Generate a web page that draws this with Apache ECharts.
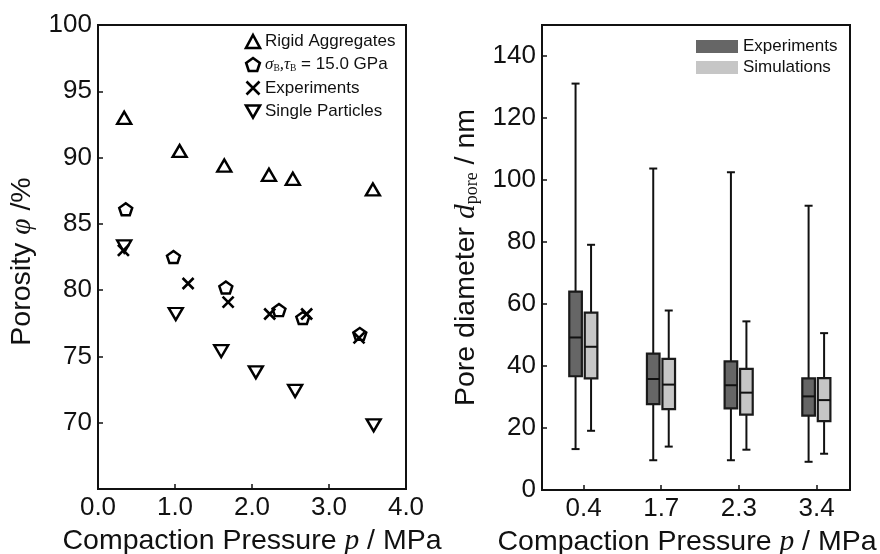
<!DOCTYPE html>
<html>
<head>
<meta charset="utf-8">
<script src="https://cdn.jsdelivr.net/npm/echarts@6/dist/echarts.min.js"></script>
<style>html,body{margin:0;padding:0;background:#fff;}#c{width:880px;height:554px;}</style>
</head>
<body>
<div id="c"></div>
<script>
// ---- Left panel: porosity vs compaction pressure ----
const rigidX  = [0.34, 1.06, 1.64, 2.22, 2.53, 3.57];
const rigidY  = [93.0, 90.5, 89.4, 88.7, 88.4, 87.6];
const bondX   = [0.36, 0.98, 1.66, 2.35, 2.66, 3.40];
const bondY   = [86.1, 82.5, 80.2, 78.5, 77.9, 76.7];
const expX    = [0.33, 1.17, 1.69, 2.23, 2.71, 3.39];
const expY    = [83.0, 80.5, 79.1, 78.2, 78.2, 76.4];
const singleX = [0.34, 1.01, 1.60, 2.05, 2.56, 3.58];
const singleY = [83.3, 78.2, 75.4, 73.8, 72.4, 69.8];

// ---- Right panel: pore diameter box plots ----
const boxCats  = ['0.4', '1.7', '2.3', '3.4'];
const boxPos   = [0, 1, 2, 3];
const expLow   = [13.2, 9.6, 9.6, 9.1];
const expQ1    = [36.7, 27.7, 26.3, 24.0];
const expMed   = [49.2, 35.8, 33.8, 30.2];
const expQ3    = [64.0, 44.0, 41.5, 36.0];
const expHigh  = [131.1, 103.7, 102.5, 91.7];
const simLow   = [19.1, 14.0, 13.0, 11.7];
const simQ1    = [36.0, 26.1, 24.3, 22.2];
const simMed   = [46.2, 34.0, 31.4, 29.0];
const simQ3    = [57.2, 42.3, 39.1, 36.1];
const simHigh  = [79.1, 57.9, 54.4, 50.6];

const SANS = 'Liberation Sans';
const SERIF = 'Liberation Serif';
const INK = '#111';

function zip(a, b) { return a.map((v, i) => [v, b[i]]); }
function boxData(low, q1, med, q3, high) {
  return boxPos.map((p, i) => [p, low[i], q1[i], med[i], q3[i], high[i]]);
}

const pentagon = 'path://M50,0 L100,36.3 L80.9,95.1 L19.1,95.1 L0,36.3 Z';
const downTri = 'path://M0,0 L100,0 L50,86.6 Z';
const cross = 'path://M0,0 L100,100 M100,0 L0,100';

function makeBox(offset) {
  return function (params, api) {
    const c = api.value(0);
    const P = v => api.coord([c, v]);
    const lo = P(api.value(1)), q1 = P(api.value(2)), md = P(api.value(3)),
          q3 = P(api.value(4)), hi = P(api.value(5));
    const x = lo[0] + offset;
    const hw = 6.3, cw = 4;
    const color = api.visual('color');
    const ls = { stroke: INK, lineWidth: 2 };
    return {
      type: 'group',
      children: [
        { type: 'line', shape: { x1: x, y1: hi[1], x2: x, y2: q3[1] }, style: ls },
        { type: 'line', shape: { x1: x, y1: lo[1], x2: x, y2: q1[1] }, style: ls },
        { type: 'line', shape: { x1: x - cw, y1: hi[1], x2: x + cw, y2: hi[1] }, style: ls },
        { type: 'line', shape: { x1: x - cw, y1: lo[1], x2: x + cw, y2: lo[1] }, style: ls },
        { type: 'rect', shape: { x: x - hw, y: q3[1], width: 2 * hw, height: q1[1] - q3[1] },
          style: { fill: color, stroke: '#1a1a1a', lineWidth: 2.2 } },
        { type: 'line', shape: { x1: x - hw, y1: md[1], x2: x + hw, y2: md[1] }, style: ls }
      ]
    };
  };
}

const labelStyle = { fontFamily: SANS, fontSize: 26, color: INK };
const nameRich = {
  t: { fontFamily: SANS, fontSize: 28.5, color: INK },
  i: { fontFamily: SERIF, fontStyle: 'italic', fontSize: 29.5, color: INK },
  s: { fontFamily: SERIF, fontSize: 18, color: INK, padding: [12, 0, 0, 0] }
};
const markerStyle = { color: '#fff', borderColor: '#000', borderWidth: 2.4, opacity: 1 };

const chart = echarts.init(document.getElementById('c'), null, { renderer: 'canvas' });
chart.setOption({
  animation: false,
  backgroundColor: '#fff',
  grid: [
    { left: 98, right: 474, top: 25, bottom: 65, show: true, borderColor: INK, borderWidth: 2,
      backgroundColor: 'transparent', containLabel: false, outerBoundsMode: 'none' },
    { left: 542, right: 30, top: 25, bottom: 64, show: true, borderColor: INK, borderWidth: 2,
      backgroundColor: 'transparent', containLabel: false, outerBoundsMode: 'none' }
  ],
  legend: [
    {
      data: ['Rigid Aggregates', 'Bonded', 'Experiments', 'Single Particles'],
      orient: 'vertical', left: 239, top: 28, itemWidth: 14, itemHeight: 13, itemGap: 6,
      selectedMode: false,
      itemStyle: { borderWidth: 2.6, borderColor: '#000' },
      textStyle: {
        fontFamily: SANS, fontSize: 17, color: INK,
        rich: {
          g: { fontFamily: SERIF, fontStyle: 'italic', fontSize: 17, color: INK },
          s: { fontFamily: SERIF, fontSize: 9.5, color: INK, padding: [7, 0, 0, 0] },
          t: { fontFamily: SANS, fontSize: 17, color: INK }
        }
      },
      formatter: function (n) {
        if (n === 'Bonded') return '{g|σ}{s|B}{g|,τ}{s|B}{t| = 15.0 GPa}';
        return n;
      }
    },
    {
      data: [
        { name: 'ExpBox', icon: 'rect', itemStyle: { color: '#666', borderWidth: 0 } },
        { name: 'SimBox', icon: 'rect', itemStyle: { color: '#c6c6c6', borderWidth: 0 } }
      ],
      orient: 'vertical', left: 691, top: 33, itemWidth: 42, itemHeight: 13, itemGap: 4,
      selectedMode: false,
      textStyle: { fontFamily: SANS, fontSize: 17, color: INK },
      formatter: function (n) { return n === 'ExpBox' ? 'Experiments' : 'Simulations'; }
    }
  ],
  xAxis: [
    {
      gridIndex: 0, type: 'value', min: 0, max: 4, interval: 1,
      axisLine: { onZero: false, lineStyle: { color: INK, width: 2 } },
      axisTick: { inside: true, length: 5, lineStyle: { color: INK, width: 1.5 } },
      splitLine: { show: false },
      axisLabel: { ...labelStyle, margin: 6, formatter: v => v.toFixed(1) },
      name: '{t|Compaction Pressure }{i|p}{t| / MPa}',
      nameLocation: 'middle', nameGap: 36,
      nameTextStyle: { rich: nameRich }
    },
    {
      gridIndex: 1, type: 'value', min: -0.535, max: 3.43,
      axisLine: { onZero: false, lineStyle: { color: INK, width: 2 } },
      axisTick: { inside: true, length: 5, customValues: boxPos, lineStyle: { color: INK, width: 1.5 } },
      splitLine: { show: false },
      axisLabel: { ...labelStyle, margin: 6, customValues: boxPos, formatter: v => boxCats[Math.round(v)] },
      name: '{t|Compaction Pressure }{i|p}{t| / MPa}',
      nameLocation: 'middle', nameGap: 36,
      nameTextStyle: { rich: nameRich, padding: [0, 18, 0, 0] }
    }
  ],
  yAxis: [
    {
      gridIndex: 0, type: 'value', min: 65, max: 100, interval: 5,
      axisLine: { show: true, onZero: false, lineStyle: { color: INK, width: 2 } },
      axisTick: { show: true, inside: true, length: 5, lineStyle: { color: INK, width: 1.5 } },
      splitLine: { show: false },
      axisLabel: { ...labelStyle, margin: 6, showMinLabel: false },
      name: '{t|Porosity }{i|φ}{t| /%}',
      nameLocation: 'middle', nameGap: 61, nameRotate: 90,
      nameTextStyle: { rich: nameRich, padding: [0, 9, 0, 0] }
    },
    {
      gridIndex: 1, type: 'value', min: 0, max: 150, interval: 20,
      axisLine: { show: true, onZero: false, lineStyle: { color: INK, width: 2 } },
      axisTick: { show: true, inside: true, length: 5, lineStyle: { color: INK, width: 1.5 } },
      splitLine: { show: false },
      axisLabel: { ...labelStyle, margin: 6, showMaxLabel: false },
      name: '{t|Pore diameter }{i|d}{s|pore}{t| / nm}',
      nameLocation: 'middle', nameGap: 61, nameRotate: 90,
      nameTextStyle: { rich: nameRich }
    }
  ],
  series: [
    { name: 'Rigid Aggregates', type: 'scatter', xAxisIndex: 0, yAxisIndex: 0,
      symbol: 'triangle', symbolSize: [14, 12], itemStyle: markerStyle, data: zip(rigidX, rigidY) },
    { name: 'Bonded', type: 'scatter', xAxisIndex: 0, yAxisIndex: 0,
      symbol: pentagon, symbolSize: [13, 12], itemStyle: markerStyle, data: zip(bondX, bondY) },
    { name: 'Single Particles', type: 'scatter', xAxisIndex: 0, yAxisIndex: 0,
      symbol: downTri, symbolSize: [14, 12], itemStyle: markerStyle, data: zip(singleX, singleY) },
    { name: 'Experiments', type: 'scatter', xAxisIndex: 0, yAxisIndex: 0,
      symbol: cross, symbolSize: [11, 11],
      itemStyle: { color: 'none', borderColor: '#000', borderWidth: 2.6, opacity: 1 },
      data: zip(expX, expY) },
    { name: 'ExpBox', type: 'custom', xAxisIndex: 1, yAxisIndex: 1,
      itemStyle: { color: '#666' }, renderItem: makeBox(-8),
      encode: { x: 0, y: [1, 2, 3, 4, 5] }, data: boxData(expLow, expQ1, expMed, expQ3, expHigh) },
    { name: 'SimBox', type: 'custom', xAxisIndex: 1, yAxisIndex: 1,
      itemStyle: { color: '#c6c6c6' }, renderItem: makeBox(7.5),
      encode: { x: 0, y: [1, 2, 3, 4, 5] }, data: boxData(simLow, simQ1, simMed, simQ3, simHigh) }
  ]
});
</script>
</body>
</html>
